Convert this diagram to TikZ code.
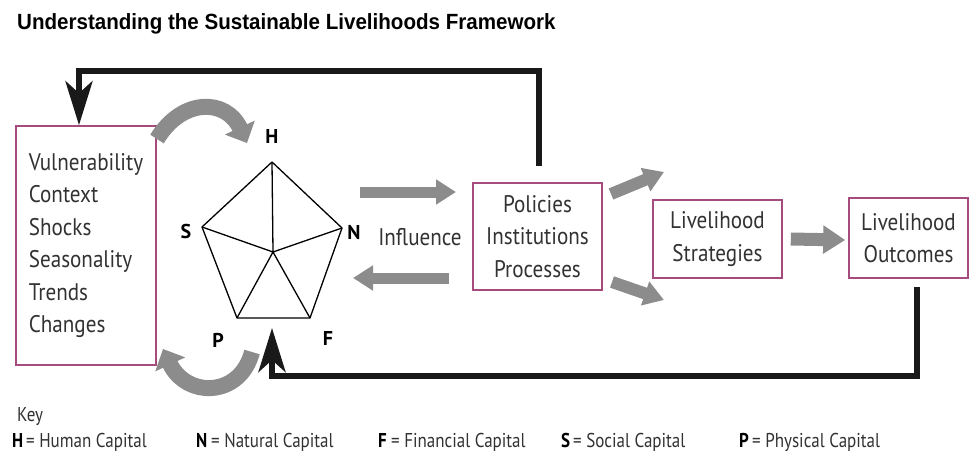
\documentclass[tikz,border=0pt]{standalone}
\usepackage{graphicx}
\usepackage{fontspec}
\setmainfont{PT Sans}
\newfontfamily\boxfont{PT Sans}[FakeStretch=0.88]
\newfontfamily\keyfont{PT Sans}[FakeStretch=0.85]
\newfontfamily\titlefont{Liberation Sans}
\usetikzlibrary{arrows.meta,calc}
\definecolor{boxc}{RGB}{165,75,125}
\definecolor{arrg}{RGB}{140,140,140}
\definecolor{blk}{RGB}{25,25,25}
\definecolor{txt}{RGB}{50,50,50}
\begin{document}
\begin{tikzpicture}[x=1pt,y=-1pt,
  box/.style={draw=boxc,line width=1.6pt,align=center,inner sep=0pt,
    font=\boxfont\fontsize{24}{32.5}\selectfont,text=txt},
  garrow/.style={draw=arrg,line width=11pt,-{Triangle[length=20pt,width=24pt]}},
  carrow/.style={draw=arrg,line width=16pt,-{Triangle[length=17pt,width=32pt]}},
  fback/.style={draw=blk,line width=6pt,line join=miter,
    -{Stealth[length=44pt,width=27pt,inset=12pt]}},
  pent/.style={draw=black,line width=1.3pt,line join=round},
  plabel/.style={font=\bfseries\fontsize{20}{20}\selectfont,text=black},
  keyt/.style={font=\keyfont\fontsize{20}{22}\selectfont,text=txt,anchor=base west,inner sep=0pt},
  keyb/.style={font=\keyfont\bfseries\fontsize{20}{22}\selectfont,text=black,anchor=base west,inner sep=0pt}
]
\useasboundingbox (0,0) rectangle (971,455);
\fill[white] (0,0) rectangle (971,455);

% title
\node[anchor=base west,inner sep=0pt] (title) at (17,29)
  {\titlefont\bfseries\fontsize{22}{26}\selectfont\scalebox{0.935}[1]{Understanding the Sustainable Livelihoods Framework}};

% boxes
\node[box,align=left,minimum width=140pt,minimum height=239pt] (vul) at (86,245.5)
  {Vulnerability\\Context\\Shocks\\Seasonality\\Trends\\Changes};
\node[box,minimum width=129pt,minimum height=107pt] (pol) at (537.5,236.5)
  {Policies\\Institutions\\Processes};
\node[box,minimum width=129pt,minimum height=78pt] (str) at (717.5,239)
  {Livelihood\\Strategies};
\node[box,minimum width=119pt,minimum height=80pt] (out) at (908.5,238)
  {Livelihood\\Outcomes};

% pentagon
\coordinate (H) at (272,162);
\coordinate (N) at (342,228);
\coordinate (F) at (310,318);
\coordinate (P) at (237,318);
\coordinate (S) at (202,227);
\coordinate (C) at (273,252);
\draw[pent] (H) -- (N) -- (F) -- (P) -- (S) -- cycle;
\draw[pent] (C) -- (H) (C) -- (N) (C) -- (F) (C) -- (P) (C) -- (S);
\node[plabel] (lH) at (272,136) {H};
\node[plabel] (lN) at (354,232) {N};
\node[plabel] (lS) at (186,231) {S};
\node[plabel] (lP) at (218,340) {P};
\node[plabel] (lF) at (328,338) {F};

% influence
\node[font=\boxfont\fontsize{24}{26}\selectfont,text=txt] (inf) at (420,237) {Influence};

% gray straight arrows
\coordinate (a1s) at (360,192); \coordinate (a1e) at (456,192);
\draw[garrow] (a1s) -- (a1e);
\coordinate (a2s) at (449,278); \coordinate (a2e) at (353,278);
\draw[garrow] (a2s) -- (a2e);
\coordinate (d1s) at (611,194); \coordinate (d1e) at (664,172);
\draw[garrow,line width=12pt] (d1s) -- (d1e);
\coordinate (d2s) at (612,282); \coordinate (d2e) at (664,300);
\draw[garrow,line width=12pt] (d2s) -- (d2e);
\draw[garrow,line width=13pt,-{Triangle[length=22pt,width=27pt]}] (str.east) ++(8,0) coordinate (s1) -- ($(out.west)+(-3,2)$);

% curved arrows
\coordinate (c1s) at (157,139); \coordinate (c1e) at (247,143);
\draw[carrow] (c1s) .. controls (182,98) and (226,98) .. (c1e);
\coordinate (c2s) at (252,352); \coordinate (c2e) at (163,349);
\draw[carrow] (c2s) .. controls (240,398) and (186,398) .. (c2e);

% feedback loops
\coordinate (polTop) at (539,166);
\coordinate (vulUp) at (79,71);
\draw[fback] (polTop) |- (vulUp) -- (vulUp |- vul.north);
\coordinate (outBot) at (917,287);
\coordinate (pentTip) at (272,328);
\draw[fback] (outBot) |- (272,376) -- (pentTip);

% key
\node[keyt] (key) at (17,421) {Key};
\node[keyb] (kH) at (12,447) {H};
\node[keyt] (kHt) at (26,447) {= Human Capital};
\node[keyb] (kN) at (196,447) {N};
\node[keyt] (kNt) at (211,447) {= Natural Capital};
\node[keyb] (kF) at (378,447) {F};
\node[keyt] (kFt) at (391,447) {= Financial Capital};
\node[keyb] (kS) at (561,447) {S};
\node[keyt] (kSt) at (573,447) {= Social Capital};
\node[keyb] (kP) at (739,447) {P};
\node[keyt] (kPt) at (752,447) {= Physical Capital};
\end{tikzpicture}
\end{document}
